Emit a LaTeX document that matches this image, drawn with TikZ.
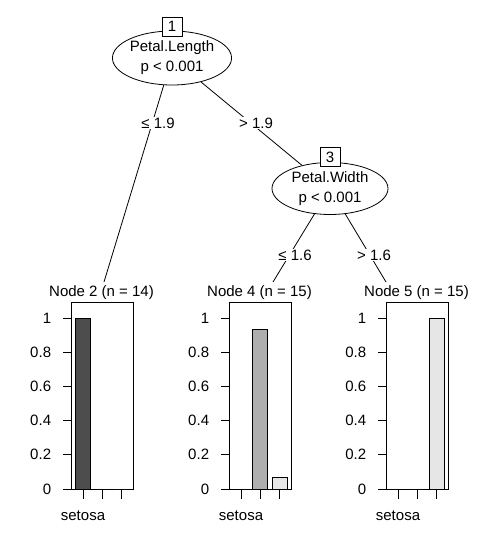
\documentclass[tikz,border=0pt]{standalone}
\usepackage{fontspec}
\setmainfont{Liberation Sans}
\usetikzlibrary{shapes.geometric}
\definecolor{bar1}{HTML}{4D4D4D}
\definecolor{bar2}{HTML}{AEAEAE}
\definecolor{bar3}{HTML}{E6E6E6}
\begin{document}
\begin{tikzpicture}[x=1pt, y=-1pt, line width=0.8pt,
    every node/.style={font=\fontsize{15}{20}\selectfont}]
    \tikzstyle{split}=[draw, ellipse, fill=white, inner sep=0pt, align=center]
    \tikzstyle{idbox}=[draw, fill=white, minimum width=20pt, minimum height=19pt, inner sep=0pt]
    \tikzstyle{cut}=[fill=white, inner sep=1pt]

    \useasboundingbox (0,0) rectangle (488,536);

    \node[split, minimum width=112pt, minimum height=54pt](n_1) at (172, 58) {Petal.Length\\p < 0.001};
    \node[split, minimum width=116pt, minimum height=52pt](n_3) at (330, 188.5) {Petal.Width\\p < 0.001};

    \coordinate(e_2) at (104, 282);
    \coordinate(e_4) at (273, 282);
    \coordinate(e_5) at (386, 282);

    \draw (n_1) -- (e_2);
    \draw (n_1) -- (n_3);
    \draw (n_3) -- (e_4);
    \draw (n_3) -- (e_5);

    \node[cut](c_2) at (158, 123) {≤ 1.9};
    \node[cut](c_3) at (256, 123) {> 1.9};
    \node[cut](c_4) at (295, 255) {≤ 1.6};
    \node[cut](c_5) at (374, 255) {> 1.6};

    \node[idbox](id_1) at ([yshift=4pt]n_1.north) {1};
    \node[idbox](id_3) at ([yshift=5pt]n_3.north) {3};

    % terminal nodes
    \foreach \k/\lx/\cnt/\va/\vb/\vc in {2/71/14/1/0/0, 4/229/15/0/0.933/0.067, 5/386/15/0/0/1} {
        \node(t_\k) at (\lx+30.5, 293) {Node \k\ (n = \cnt)};
        \draw (\lx, 302) rectangle (\lx+62, 489);
        \foreach \v/\c [count=\i from 0] in {\va/bar1, \vb/bar2, \vc/bar3} {
            \draw[fill=\c] (\lx+4.5+19.3*\i, 489) rectangle +(15, -171*\v);
            \draw (\lx+12+19.3*\i, 489) -- +(0, 10);
        }
        \foreach \lab [count=\j from 0] in {0, 0.2, 0.4, 0.6, 0.8, 1} {
            \draw (\lx-8, 489-34.2*\j) -- (\lx, 489-34.2*\j);
            \node[anchor=east, inner sep=0pt](y_\k_\j) at (\lx-19.5, 489-34.2*\j) {\lab};
        }
        \node(s_\k) at (\lx+12, 516) {setosa};
    }
\end{tikzpicture}
\end{document}
